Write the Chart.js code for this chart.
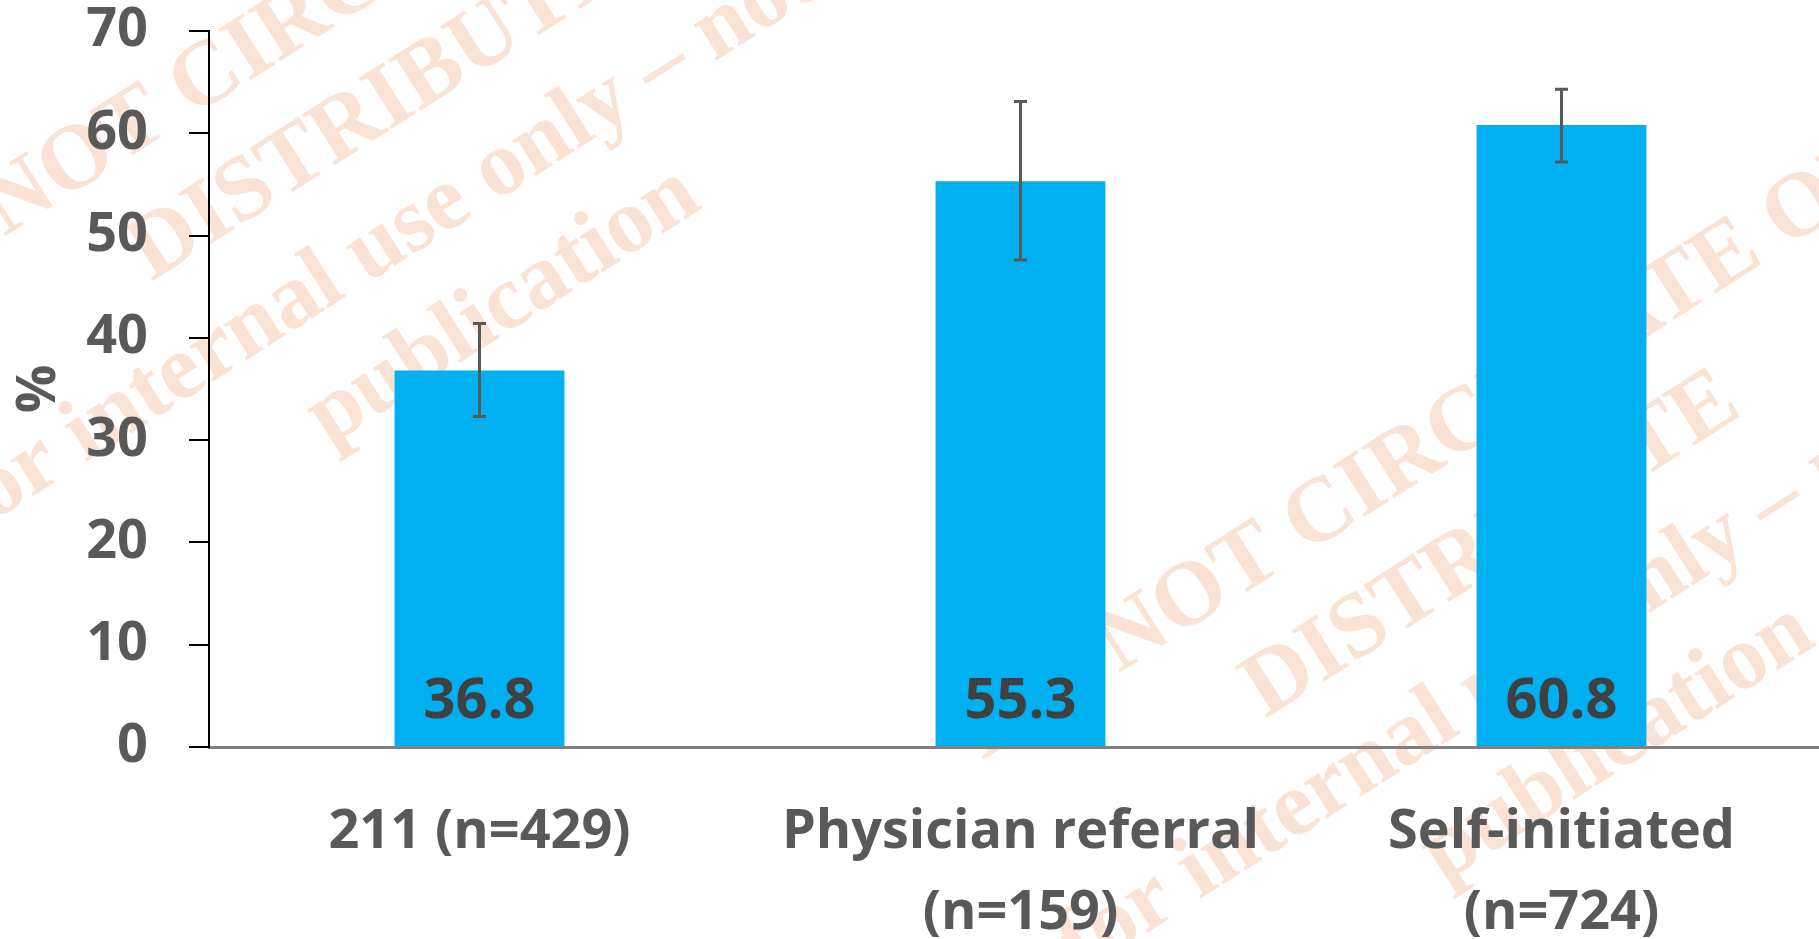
<!DOCTYPE html>
<html>
<head>
<meta charset="utf-8">
<script src="https://cdn.jsdelivr.net/npm/chart.js@4.4.1/dist/chart.umd.min.js"></script>
<style>
    html, body { margin: 0; padding: 0; background: #fff; overflow: hidden; }
    #wrap { width: 1832px; height: 939px; }
</style>
</head>
<body>
<div id="wrap"><canvas id="referralChart"></canvas></div>
<script>
const categories = ['211 (n=429)', ['Physician referral', '(n=159)'], ['Self-initiated', '(n=724)']];
const values = [36.8, 55.3, 60.8];
const errorLow = [32.3, 47.6, 57.2];
const errorHigh = [41.4, 63.1, 64.3];
const watermarkLines = ['DO NOT CIRCULATE OR', 'DISTRIBUTE', 'for internal use only \u2013 not for', 'publication'];

const labelFont = { family: 'Open Sans', weight: 'bold', size: 54 };

// faint watermark behind everything
const watermarkPlugin = {
    id: 'watermark',
    beforeDraw(chart) {
        const ctx = chart.ctx;
        ctx.save();
        ctx.fillStyle = '#FAE2D5';
        ctx.font = 'bold 92px "Liberation Serif"';
        ctx.textAlign = 'center';
        ctx.textBaseline = 'alphabetic';
        ctx.rotate(-32.5 * Math.PI / 180);
        [[260, 202], [965, 1169]].forEach(function([cx, cy]) {
            watermarkLines.forEach(function(line, i) {
                ctx.fillText(line, cx, cy + i * 117);
            });
        });
        ctx.restore();
    }
};

// error bars and the value printed inside each bar
const errorBarPlugin = {
    id: 'errorBars',
    afterDatasetsDraw(chart) {
        const ctx = chart.ctx;
        const y = chart.scales.y;
        const bars = chart.getDatasetMeta(0).data;
        ctx.save();
        ctx.strokeStyle = '#595959';
        ctx.lineWidth = 3;
        bars.forEach(function(bar, i) {
            const top = y.getPixelForValue(errorHigh[i]);
            const bottom = y.getPixelForValue(errorLow[i]);
            ctx.beginPath();
            ctx.moveTo(bar.x, top);
            ctx.lineTo(bar.x, bottom);
            ctx.moveTo(bar.x - 6.5, top);
            ctx.lineTo(bar.x + 6.5, top);
            ctx.moveTo(bar.x - 6.5, bottom);
            ctx.lineTo(bar.x + 6.5, bottom);
            ctx.stroke();
        });
        ctx.fillStyle = '#404040';
        ctx.font = 'bold 56px "Open Sans"';
        ctx.textAlign = 'center';
        ctx.textBaseline = 'middle';
        bars.forEach(function(bar, i) {
            ctx.fillText(values[i].toFixed(1), bar.x, y.getPixelForValue(0) - 45);
        });
        ctx.restore();
    }
};

const ctx = document.getElementById('referralChart').getContext('2d');
new Chart(ctx, {
    type: 'bar',
    data: {
        labels: categories,
        datasets: [{
            data: values,
            backgroundColor: '#00B0F0',
            barPercentage: 0.314,
            categoryPercentage: 1
        }]
    },
    options: {
        responsive: true,
        maintainAspectRatio: false,
        animation: false,
        layout: { padding: { top: 31, left: 0, right: 0, bottom: 0 } },
        plugins: {
            legend: { display: false },
            tooltip: { enabled: false }
        },
        scales: {
            x: {
                grid: { display: false, drawTicks: false },
                border: { display: true, color: '#808080', width: 3 },
                ticks: {
                    color: '#595959',
                    font: Object.assign({ lineHeight: 1.5 }, labelFont),
                    padding: 45,
                    maxRotation: 0,
                    autoSkip: false
                },
                afterFit(scale) { scale.height = 192; }
            },
            y: {
                min: 0,
                max: 70,
                ticks: {
                    stepSize: 10,
                    color: '#595959',
                    font: Object.assign({ lineHeight: 1 }, labelFont),
                    padding: 41
                },
                grid: { drawOnChartArea: false, color: '#000', tickLength: 20, lineWidth: 2 },
                border: { color: '#000', width: 2 },
                title: {
                    display: true,
                    text: '%',
                    color: '#595959',
                    font: Object.assign({ lineHeight: 1 }, labelFont),
                    padding: { top: 13, bottom: 0 }
                },
                afterFit(scale) {
                    scale.width = 209;
                    scale.paddingTop = 0;
                    scale.paddingBottom = 0;
                }
            }
        }
    },
    plugins: [watermarkPlugin, errorBarPlugin]
});
</script>
</body>
</html>
